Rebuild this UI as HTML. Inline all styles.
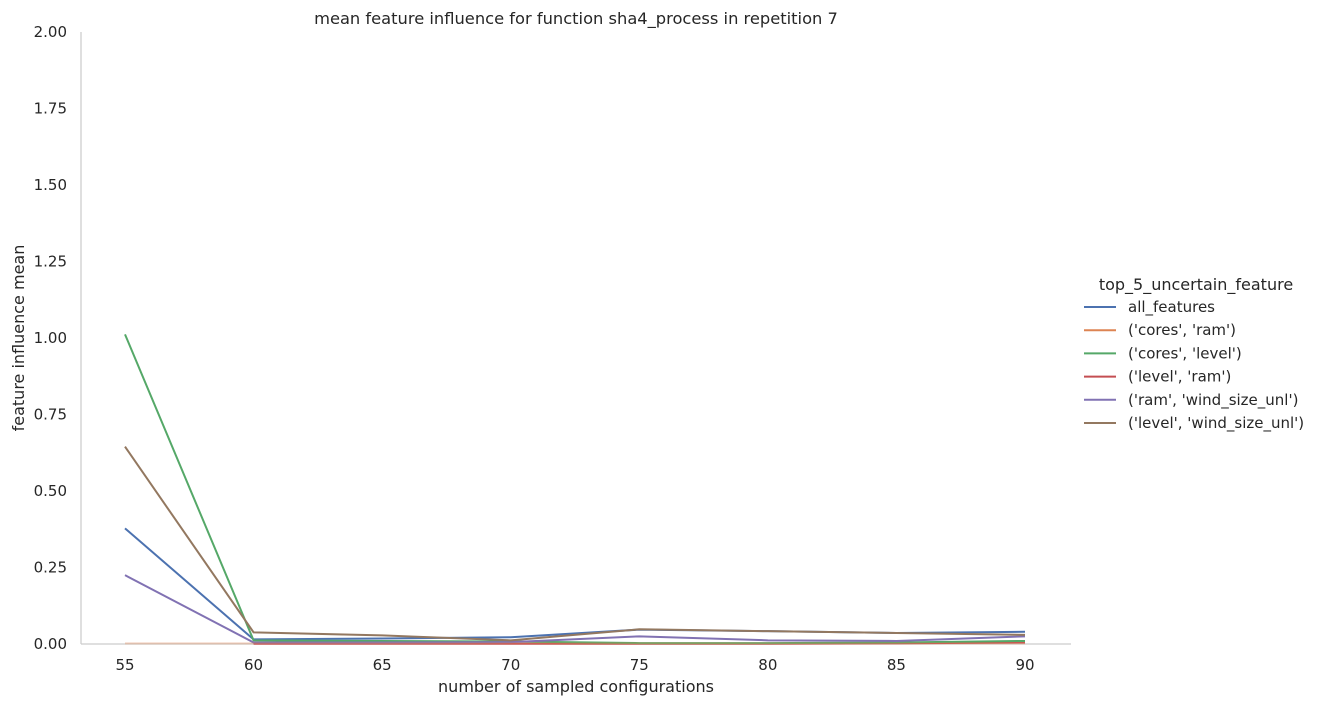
<!DOCTYPE html>
<html><head><meta charset="utf-8"><style>
body{margin:0;background:#fff;font-family:"Liberation Sans","DejaVu Sans",sans-serif;}
svg text{font-family:"DejaVu Sans","Liberation Sans",sans-serif;fill:#262626;}
</style></head><body>
<svg id="chart" width="1321" height="706">
<text x="576" y="24" font-size="16.3" text-anchor="middle">mean feature influence for function sha4_process in repetition 7</text>
<line x1="81" y1="32" x2="81" y2="644" stroke="#cccccc" stroke-width="1.25"/>
<line x1="81" y1="644" x2="1071" y2="644" stroke="#cccccc" stroke-width="1.25"/>
<g id="yticks"></g><g id="xticks"></g><g id="series"></g>
<text x="576" y="692" font-size="16" text-anchor="middle">number of sampled configurations</text>
<text transform="translate(24,338) rotate(-90)" font-size="16" text-anchor="middle">feature influence mean</text>
<g>
<text x="1196" y="290" font-size="16" text-anchor="middle">top_5_uncertain_feature</text>
<g id="legend"></g>
</g>
</svg>
<script>
const xValues=[55,60,65,70,75,80,85,90];
const yTicks=[0,0.25,0.5,0.75,1.0,1.25,1.5,1.75,2.0];
const seriesNames=["all_features","('cores', 'ram')","('cores', 'level')","('level', 'ram')","('ram', 'wind_size_unl')","('level', 'wind_size_unl')"];
const allFeatures=[0.378,0.015,0.018,0.022,0.047,0.042,0.036,0.040];
const coresRam=[0.002,0.002,0.002,0.002,0.002,0.002,0.002,0.002];
const coresLevel=[1.012,0.012,0.010,0.008,0.003,0.003,0.005,0.010];
const levelRam=[null,0.001,0.001,0.001,0.001,0.001,0.002,0.005];
const ramWind=[0.225,0.005,0.005,0.006,0.025,0.012,0.010,0.025];
const levelWind=[0.645,0.038,0.028,0.012,0.048,0.042,0.036,0.030];
const seriesValues=[allFeatures,coresRam,coresLevel,levelRam,ramWind,levelWind];
const colors=["#4c72b0","#dd8452","#55a868","#c44e52","#8172b3","#937860"];
const opac=[1,0.35,1,1,1,1];
const NS="http://www.w3.org/2000/svg";
const xs=v=>125+(v-55)*(900/35);
const ys=v=>644-v*306;
function mk(t,a,p){const e=document.createElementNS(NS,t);for(const k in a)e.setAttribute(k,a[k]);p.appendChild(e);return e;}
const yt=document.getElementById('yticks');
yTicks.forEach(v=>{const t=mk('text',{x:67,y:ys(v)+5,'font-size':15,'text-anchor':'end'},yt);t.textContent=v.toFixed(2);

});
const xt=document.getElementById('xticks');
xValues.forEach(v=>{const t=mk('text',{x:xs(v),y:670,'font-size':15,'text-anchor':'middle'},xt);t.textContent=v;

});
const sg=document.getElementById('series');
const order=[3,0,2,4,5,1];
order.forEach(i=>{const pts=seriesValues[i].map((v,j)=>v===null?null:xs(xValues[j])+','+ys(v)).filter(p=>p).join(' ');
const p=mk('polyline',{points:pts,fill:'none',stroke:colors[i],'stroke-width':2,'stroke-opacity':opac[i]},sg);

});
const lg=document.getElementById('legend');
seriesNames.forEach((n,i)=>{const y=307+i*23.2;
const g=mk('g',{},lg);


mk('line',{x1:1084,x2:1116,y1:y,y2:y,stroke:colors[i],'stroke-width':2},g);
const t=mk('text',{x:1128,y:y+5,'font-size':15},g);t.textContent=n;});
</script>
</body></html>
